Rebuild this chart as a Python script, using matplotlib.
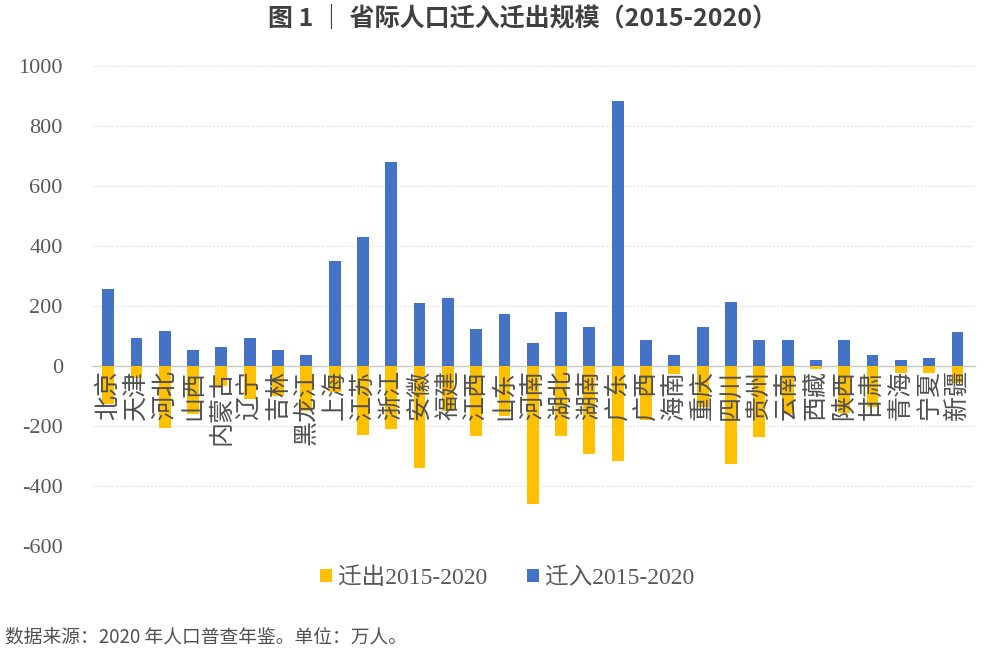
import matplotlib
matplotlib.use("Agg")
import matplotlib.pyplot as plt
import numpy as np

provinces = ["北京", "天津", "河北", "山西", "内蒙古", "辽宁", "吉林", "黑龙江", "上海", "江苏",
             "浙江", "安徽", "福建", "江西", "山东", "河南", "湖北", "湖南", "广东", "广西",
             "海南", "重庆", "四川", "贵州", "云南", "西藏", "陕西", "甘肃", "青海", "宁夏", "新疆"]
inflow = [258, 92, 118, 53, 64, 92, 53, 37, 350, 430,
          680, 211, 228, 122, 173, 78, 181, 131, 883, 87,
          37, 130, 213, 86, 86, 20, 87, 37, 20, 27, 115]
outflow = [-127, -41, -205, -160, -67, -110, -100, -150, -88, -230,
           -210, -340, -150, -233, -165, -460, -233, -293, -315, -180,
           -28, -138, -325, -237, -160, -10, -158, -137, -22, -22, -55]
series_names = ["迁出2015-2020", "迁入2015-2020"]
yticks = [-600, -400, -200, 0, 200, 400, 600, 800, 1000]
title = "图 1 ｜ 省际人口迁入迁出规模（2015-2020）"
footer = "数据来源：2020 年人口普查年鉴。单位：万人。"

CJK = ["Noto Sans CJK SC", "DejaVu Sans"]
SERIF_CJK = ["Liberation Serif", "Noto Sans CJK SC"]
plt.rcParams["font.family"] = CJK

fig = plt.figure(figsize=(10, 6.6), dpi=100)
ax = fig.add_axes([0.092, 0.1727, 0.883, 0.7273])
ax.set_axisbelow(False)

x = np.arange(len(provinces))
w = 0.42
b1 = ax.bar(x, outflow, width=w, color="#FFC000", label=series_names[0], zorder=1)
b2 = ax.bar(x, inflow, width=w, color="#4472C4", label=series_names[1], zorder=1)

ax.set_ylim(-600, 1000)
ax.set_xlim(-0.57, len(provinces) - 1 + 0.62)
ax.set_yticks(yticks)
ax.set_yticklabels([str(v) for v in yticks], fontfamily=SERIF_CJK, fontsize=16, color="#595959")
ax.tick_params(axis="y", length=0, pad=21)
for v in yticks:
    if v != 0:
        ax.axhline(v, color="#e3e3e3", linewidth=0.8, linestyle=(0, (2, 1.5)), zorder=0)

for s in ["top", "right", "left"]:
    ax.spines[s].set_visible(False)
ax.spines["bottom"].set_position(("data", 0))
ax.spines["bottom"].set_color("#c8c8c8")
ax.spines["bottom"].set_linewidth(1.0)
ax.spines["bottom"].set_zorder(0.5)

ax.set_xticks(x)
ax.set_xticklabels(provinces, rotation=90, fontsize=18, color="#505050", fontfamily=CJK)
ax.tick_params(axis="x", length=0, pad=3)
for lab in ax.get_xticklabels():
    lab.set_zorder(5)

fig.text(0.522, 0.972, title, ha="center", va="center", fontsize=18, fontweight="bold",
         color="#404040", fontfamily=CJK)

leg = fig.legend(handles=[b1, b2], labels=series_names, loc="center", bbox_to_anchor=(0.507, 0.124),
                 ncol=2, frameon=False, prop={"family": SERIF_CJK, "size": 17},
                 handlelength=0.5, handleheight=0.5, handletextpad=0.25, columnspacing=1.7)
for t in leg.get_texts():
    t.set_color("#595959")

fig.text(0.005, 0.035, footer, ha="left", va="center", fontsize=13.5, color="#505050", fontfamily=CJK)

fig.savefig("out.png", dpi=100, facecolor="white")
